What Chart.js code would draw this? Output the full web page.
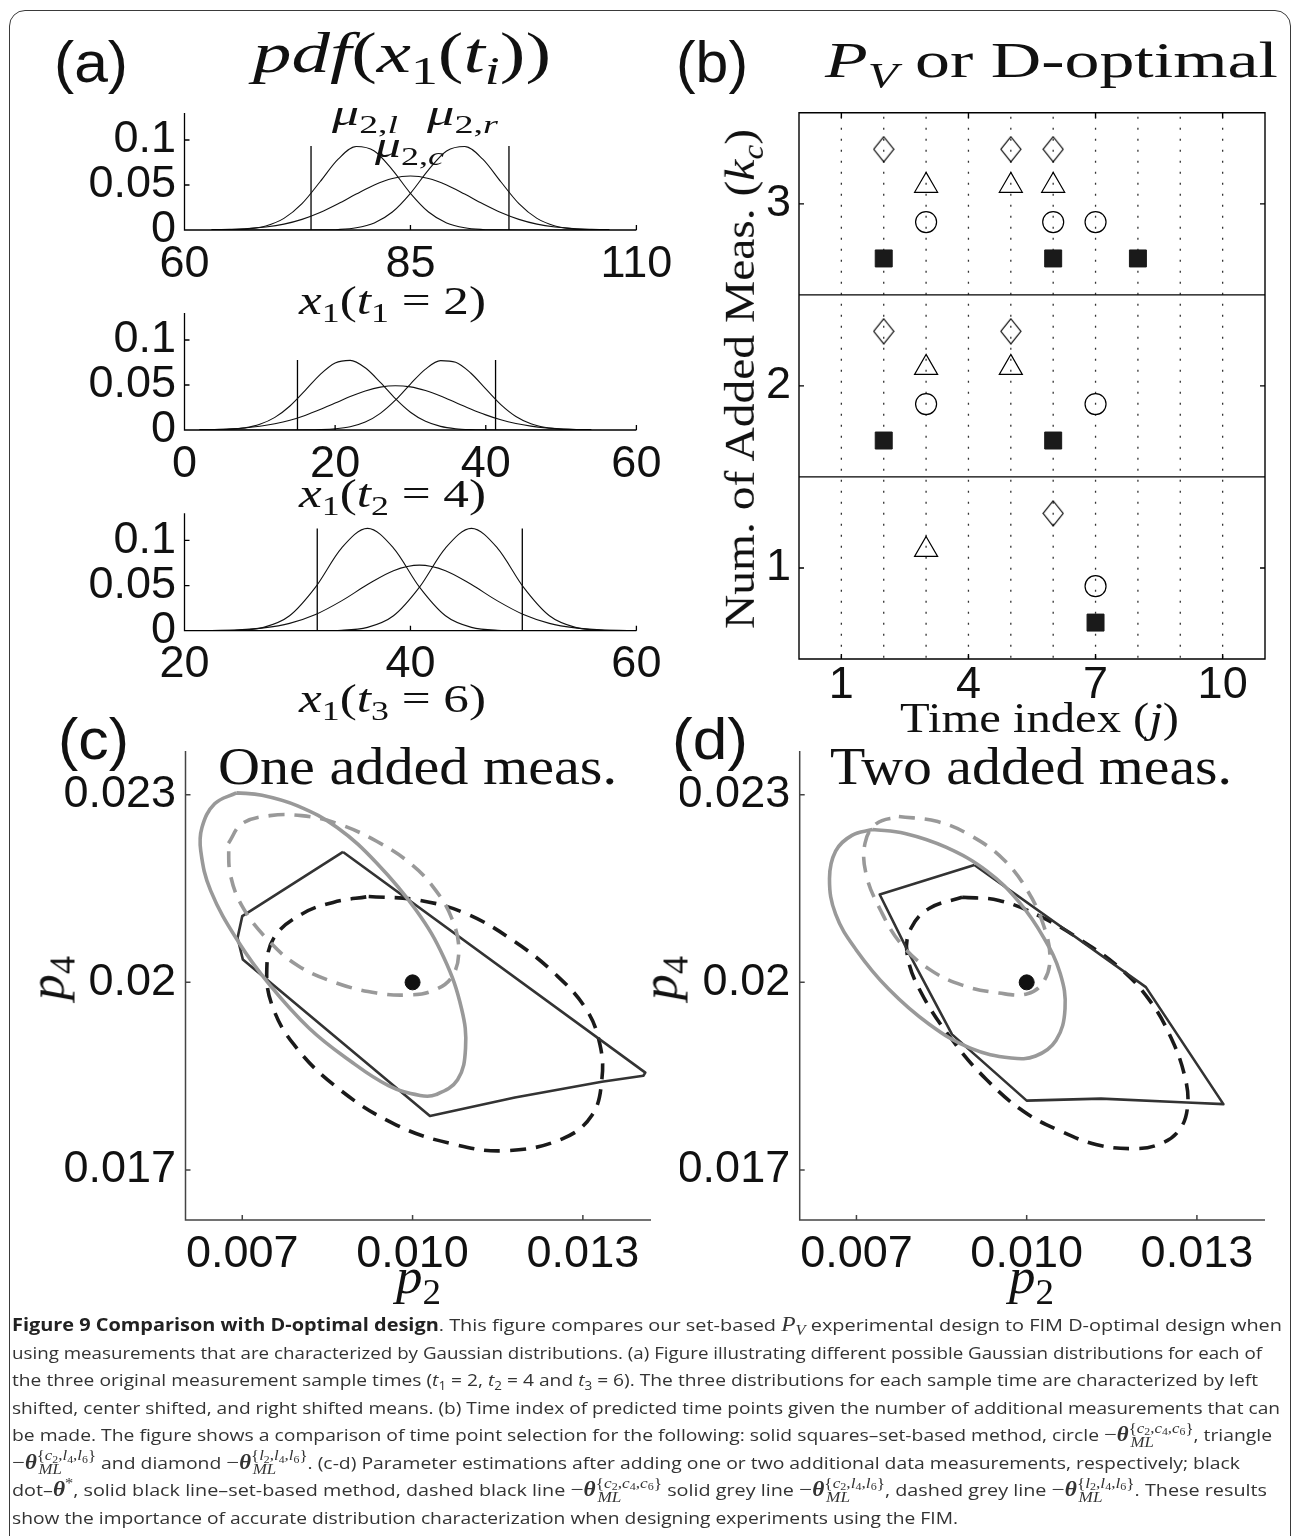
<!DOCTYPE html>
<html>
<head>
<meta charset="utf-8">
<script src="https://cdn.jsdelivr.net/npm/chart.js@4.4.1/dist/chart.umd.min.js"></script>
<style>
  html, body { margin: 0; padding: 0; background: #fff; }
  #page { position: relative; width: 1293px; height: 1536px; overflow: hidden; background: #fff; }
  #frame { position: absolute; left: 9px; top: 10px; width: 1282px; height: 1600px; border: 1.5px solid #3a3a3a; border-radius: 16px; box-sizing: border-box; }
  canvas { position: absolute; }
  .t { position: absolute; white-space: nowrap; line-height: 1; color: #111; transform-origin: 0 0; }
  .sans { font-family: 'Liberation Sans', Arial, sans-serif; }
  .serif { font-family: 'Liberation Serif', 'Times New Roman', serif; }
  .t sub { font-size: .7em; position: relative; top: .3em; vertical-align: baseline; line-height: 0; }
  .bl { display: inline-block; width: 0; height: 0; vertical-align: baseline; }
  .cap { position: absolute; left: 12px; top: 1311px; font-family: 'Open Sans', sans-serif; font-size: 17px; color: #333; }
  .cap .ln { height: 27.5px; line-height: 27.5px; white-space: nowrap; }
  .cap .ln span.tx { display: inline-block; transform-origin: 0 50%; }
  .cap b.hd { font-weight: 700; color: #222; }
  .cap sub { font-size: .7em; position: relative; top: .3em; vertical-align: baseline; line-height: 0; }
  .mth { font-family: 'Liberation Serif', serif; font-size: 1.18em; }
  .ss { position: relative; top: -.55em; font-size: .74em; line-height: 0; }
  .ss sub { font-size: .7em; top: .25em; }
  .ml { position: absolute; left: .1em; top: 1.02em; line-height: 1; }
  .mth sup { font-size: .7em; line-height: 0; }
</style>
</head>
<body>
<div id="page"><div id="frame"></div></div>
<script>
// ---- (a) pdf curves of x1 at the three sample times ----
const a1X = [63, 65, 67, 69, 71, 73, 75, 77, 79, 81, 83, 85, 87, 89, 91, 93, 95, 97, 99, 101, 103, 105, 107];
const a1Left = [0.0001, 0.0003, 0.0013, 0.0045, 0.0129, 0.0293, 0.0536, 0.0787, 0.0928, 0.0878, 0.0668, 0.0408, 0.0200, 0.0079, 0.0025, 0.0006, 0.0001, 0, 0, 0, 0, 0, 0];
const a1Center = [0.0003, 0.0007, 0.0015, 0.0033, 0.0065, 0.0118, 0.0194, 0.0291, 0.0399, 0.0501, 0.0573, 0.0600, 0.0573, 0.0501, 0.0399, 0.0291, 0.0194, 0.0118, 0.0065, 0.0033, 0.0015, 0.0007, 0.0003];
const a1Right = [0, 0, 0, 0, 0, 0, 0.0001, 0.0006, 0.0025, 0.0079, 0.0200, 0.0408, 0.0668, 0.0878, 0.0928, 0.0787, 0.0536, 0.0293, 0.0129, 0.0045, 0.0013, 0.0003, 0.0001];
const a1Bounds = [74, 95.9];
const a1BoundTop = 0.0934;

const a2X = [2, 4, 6, 8, 10, 12, 14, 16, 18, 20, 22, 24, 26, 28, 30, 32, 34, 36, 38, 40, 42, 44, 46, 48, 50, 52, 54];
const a2Left = [0.0001, 0.0002, 0.0008, 0.0024, 0.0063, 0.0140, 0.0267, 0.0438, 0.0616, 0.0745, 0.0774, 0.0691, 0.0529, 0.0348, 0.0197, 0.0096, 0.0040, 0.0014, 0.0004, 0.0001, 0, 0, 0, 0, 0, 0, 0];
const a2Center = [0.0003, 0.0006, 0.0012, 0.0023, 0.0041, 0.0069, 0.0108, 0.0162, 0.0227, 0.0299, 0.0371, 0.0433, 0.0476, 0.0492, 0.0479, 0.0438, 0.0378, 0.0306, 0.0234, 0.0168, 0.0113, 0.0072, 0.0043, 0.0024, 0.0013, 0.0006, 0.0003];
const a2Right = [0, 0, 0, 0, 0, 0, 0, 0.0001, 0.0004, 0.0013, 0.0036, 0.0088, 0.0185, 0.0331, 0.0511, 0.0677, 0.0771, 0.0753, 0.0633, 0.0456, 0.0282, 0.0150, 0.0069, 0.0027, 0.0009, 0.0003, 0.0001];
const a2Bounds = [15, 41.3];
const a2BoundTop = 0.0778;

const a3X = [22.4, 24.7, 27.0, 29.3, 31.6, 33.9, 36.2, 38.5, 40.8, 43.1, 45.4, 47.7, 50.0, 52.3, 54.6, 56.9, 59.2];
const a3Left = [0.0001, 0.0005, 0.0037, 0.0166, 0.0483, 0.0915, 0.1133, 0.0915, 0.0483, 0.0166, 0.0037, 0.0005, 0.0001, 0, 0, 0, 0];
const a3Center = [0.0003, 0.0010, 0.0031, 0.0081, 0.0179, 0.0330, 0.0511, 0.0665, 0.0726, 0.0665, 0.0511, 0.0330, 0.0179, 0.0081, 0.0031, 0.0010, 0.0003];
const a3Right = [0, 0, 0, 0, 0.0001, 0.0005, 0.0037, 0.0166, 0.0483, 0.0915, 0.1133, 0.0915, 0.0483, 0.0166, 0.0037, 0.0005, 0.0001];
const a3Bounds = [31.75, 49.9];
const a3BoundTop = 0.1133;

const pdfYTicks = [0, 0.05, 0.1];
const pdfYText = ['0', '0.05', '0.1'];
const a1Ticks = [60, 85, 110];
const a2Ticks = [0, 20, 40, 60];
const a3Ticks = [20, 40, 60];

// ---- (b) selected time index per number of added measurements ----
const kcRows = [1, 2, 3];
const squareTimes = [[7], [2, 6], [2, 6, 8]];      // set-based
const circleTimes = [[7], [3, 7], [3, 6, 7]];      // {c2,c4,c6}
const triangleTimes = [[3], [3, 5], [3, 5, 6]];    // {c2,l4,l6}
const diamondTimes = [[6], [2, 5], [2, 5, 6]];     // {l2,l4,l6}
const rowOffsets = { square: -0.3, circle: -0.1, triangle: 0.1, diamond: 0.3 };
const timeTicks = [1, 4, 7, 10];
const kcTicks = [1, 2, 3];
const timeGrid = [1, 2, 3, 4, 5, 6, 7, 8, 9, 10];
const rowSeparators = [1.5, 2.5];

// ---- (c) one added measurement, points [p2, p4] ----
const cSetBased = [[0.008775, 0.022086], [0.007000, 0.021059], [0.006917, 0.020712], [0.007010, 0.020366], [0.010306, 0.017863], [0.011803, 0.018160], [0.013334, 0.018412], [0.014065, 0.018506], [0.014100, 0.018557], [0.008775, 0.022086]];
const cCentered = [[0.009227, 0.021374], [0.010132, 0.021311], [0.010967, 0.021090], [0.011803, 0.020649], [0.012499, 0.020145], [0.013055, 0.019578], [0.013299, 0.019011], [0.013334, 0.018443], [0.013160, 0.017876], [0.012638, 0.017498], [0.011663, 0.017309], [0.010759, 0.017404], [0.009715, 0.017719], [0.008671, 0.018317], [0.007905, 0.019011], [0.007522, 0.019641], [0.007432, 0.020208], [0.007557, 0.020712], [0.008044, 0.021090], [0.008601, 0.021279], [0.009227, 0.021374]];
const cMixed = [[0.006896, 0.023031], [0.007348, 0.022993], [0.007975, 0.022823], [0.008671, 0.022477], [0.009367, 0.021910], [0.010063, 0.021153], [0.010550, 0.020397], [0.010863, 0.019578], [0.010933, 0.018948], [0.010793, 0.018443], [0.010411, 0.018204], [0.010132, 0.018191], [0.009575, 0.018349], [0.008879, 0.018759], [0.008183, 0.019263], [0.007487, 0.019956], [0.006931, 0.020649], [0.006443, 0.021468], [0.006269, 0.022099], [0.006290, 0.022477], [0.006513, 0.022855], [0.006896, 0.023031]];
const cLeft = [[0.006757, 0.022225], [0.007000, 0.022540], [0.007487, 0.022666], [0.008044, 0.022666], [0.008671, 0.022540], [0.009367, 0.022256], [0.009993, 0.021878], [0.010411, 0.021468], [0.010689, 0.021027], [0.010814, 0.020523], [0.010689, 0.020082], [0.010341, 0.019861], [0.009923, 0.019798], [0.009367, 0.019830], [0.008671, 0.019987], [0.007975, 0.020271], [0.007418, 0.020712], [0.007000, 0.021216], [0.006791, 0.021720], [0.006757, 0.022225]];

// ---- (d) two added measurements ----
const dSetBased = [[0.009079, 0.021878], [0.007410, 0.021405], [0.007928, 0.020460], [0.008684, 0.019168], [0.010000, 0.018109], [0.011309, 0.018141], [0.012820, 0.018078], [0.013467, 0.018053], [0.012101, 0.019924], [0.009079, 0.021878]];
const dCentered = [[0.008863, 0.021361], [0.009511, 0.021311], [0.010230, 0.021059], [0.010950, 0.020681], [0.011669, 0.020208], [0.012173, 0.019704], [0.012532, 0.019137], [0.012784, 0.018506], [0.012834, 0.018002], [0.012676, 0.017624], [0.012316, 0.017404], [0.011885, 0.017341], [0.011237, 0.017404], [0.010590, 0.017624], [0.009942, 0.017939], [0.009295, 0.018443], [0.008719, 0.019042], [0.008144, 0.019830], [0.007892, 0.020460], [0.007964, 0.020870], [0.008288, 0.021185], [0.008863, 0.021361]];
const dMixed = [[0.007281, 0.022445], [0.007856, 0.022382], [0.008576, 0.022162], [0.009295, 0.021783], [0.009871, 0.021279], [0.010302, 0.020712], [0.010590, 0.020145], [0.010676, 0.019578], [0.010518, 0.019074], [0.010158, 0.018822], [0.009727, 0.018790], [0.009007, 0.018948], [0.008288, 0.019326], [0.007568, 0.019893], [0.006993, 0.020523], [0.006633, 0.021090], [0.006525, 0.021657], [0.006633, 0.022099], [0.006921, 0.022351], [0.007281, 0.022445]];
const dLeft = [[0.007748, 0.022653], [0.008432, 0.022571], [0.009007, 0.022351], [0.009583, 0.021973], [0.010014, 0.021468], [0.010302, 0.020901], [0.010410, 0.020397], [0.010302, 0.020019], [0.010014, 0.019817], [0.009511, 0.019830], [0.008863, 0.019956], [0.008288, 0.020208], [0.007784, 0.020618], [0.007425, 0.021153], [0.007173, 0.021720], [0.007151, 0.022225], [0.007353, 0.022540], [0.007748, 0.022653]];

const thetaStar = [0.010, 0.020];
const p2Ticks = [0.007, 0.010, 0.013];
const p2Text = ['0.007', '0.010', '0.013'];
const p4Ticks = [0.017, 0.020, 0.023];
const p4Text = ['0.017', '0.02', '0.023'];

// MATLAB-like axes: inward ticks, optional full box, dotted grid
const matlabAxes = {
  id: 'matlabAxes',
  beforeDatasetsDraw(chart, args, o) {
    const { ctx, chartArea: a, scales: { x, y } } = chart;
    ctx.save();
    if (o.dotted) {
      ctx.setLineDash([2, 9]);
      ctx.lineWidth = 1.3;
      ctx.strokeStyle = '#333';
      o.dotted.forEach(v => {
        const px = x.getPixelForValue(v);
        ctx.beginPath(); ctx.moveTo(px, a.top + 4); ctx.lineTo(px, a.bottom); ctx.stroke();
      });
      ctx.setLineDash([]);
    }
    if (o.hlines) {
      ctx.lineWidth = 1.2;
      ctx.strokeStyle = '#000';
      o.hlines.forEach(v => {
        const py = y.getPixelForValue(v);
        ctx.beginPath(); ctx.moveTo(a.left, py); ctx.lineTo(a.right, py); ctx.stroke();
      });
    }
    ctx.restore();
  },
  afterDatasetsDraw(chart, args, o) {
    if (!o.xTicks) return;
    const { ctx, chartArea: a, scales: { x, y } } = chart;
    const t = o.tickLen || 5;
    ctx.save();
    ctx.strokeStyle = o.color || '#000';
    ctx.lineWidth = o.lineWidth || 1.3;
    ctx.beginPath();
    ctx.moveTo(a.left, a.top); ctx.lineTo(a.left, a.bottom); ctx.lineTo(a.right, a.bottom);
    if (o.box) { ctx.lineTo(a.right, a.top); ctx.closePath(); }
    o.xTicks.forEach(v => {
      const px = x.getPixelForValue(v);
      ctx.moveTo(px, a.bottom); ctx.lineTo(px, a.bottom - t);
      if (o.box) { ctx.moveTo(px, a.top); ctx.lineTo(px, a.top + t); }
    });
    o.yTicks.forEach(v => {
      const py = y.getPixelForValue(v);
      ctx.moveTo(a.left, py); ctx.lineTo(a.left + t, py);
      if (o.box) { ctx.moveTo(a.right, py); ctx.lineTo(a.right - t, py); }
    });
    ctx.stroke();
    ctx.restore();
  }
};
Chart.register(matlabAxes);

const page = document.getElementById('page');

function makeCanvas(box) {
  const c = document.createElement('canvas');
  c.width = box[2];
  c.height = box[3];
  c.style.left = box[0] + 'px';
  c.style.top = box[1] + 'px';
  page.appendChild(c);
  return c;
}

function axis(pos, min, max, vals, text, pad, size) {
  return {
    type: 'linear', position: pos, min: min, max: max,
    grid: { display: false, drawTicks: false },
    border: { display: false },
    afterBuildTicks: s => { s.ticks = vals.map(v => ({ value: v })); },
    afterFit: s => { if (pos === 'bottom') s.height = size; else s.width = size; },
    ticks: {
      autoSkip: false, maxRotation: 0, minRotation: 0, padding: pad, color: '#111',
      font: { family: "'Liberation Sans', Arial, sans-serif", size: 45, lineHeight: 1 },
      callback: (v, i) => text[i]
    }
  };
}

// box = [left, top, width, height] of canvas, area = [left, top, right, bottom] of plot
function options(box, area, x, y, axesOpts) {
  return {
    responsive: false, animation: false, devicePixelRatio: 1, events: [],
    layout: { padding: { left: 0, top: area[1] - box[1], right: box[0] + box[2] - area[2], bottom: 0 } },
    plugins: { legend: { display: false }, tooltip: { enabled: false }, matlabAxes: axesOpts },
    scales: { x: x, y: y }
  };
}

const curve = (xs, ys) => ({
  data: xs.map((x, i) => ({ x: x, y: ys[i] })),
  borderColor: '#111', borderWidth: 1.1, pointRadius: 0,
  tension: 0.4, cubicInterpolationMode: 'monotone', fill: false
});
const bound = (x, top) => ({
  data: [{ x: x, y: 0 }, { x: x, y: top }],
  borderColor: '#000', borderWidth: 1.3, pointRadius: 0, fill: false
});

function pdfPanel(box, area, xMin, xMax, xTicks, xs, left, center, right, bounds, top, xPad) {
  new Chart(makeCanvas(box), {
    type: 'line',
    data: { datasets: [curve(xs, left), curve(xs, center), curve(xs, right), bound(bounds[0], top), bound(bounds[1], top)] },
    options: options(box, area,
      axis('bottom', xMin, xMax, xTicks, xTicks.map(String), xPad, box[1] + box[3] - area[3]),
      axis('left', 0, 0.13, pdfYTicks, pdfYText, 8.5, area[0] - box[0]),
      { xTicks: xTicks, yTicks: [0.05, 0.1] })
  });
}

pdfPanel([80, 70, 620, 230], [184.5, 113, 636.4, 230], 60, 110, a1Ticks, a1X, a1Left, a1Center, a1Right, a1Bounds, a1BoundTop, 12.5);
pdfPanel([80, 270, 620, 230], [184.5, 313, 636.4, 430], 0, 60, a2Ticks, a2X, a2Left, a2Center, a2Right, a2Bounds, a2BoundTop, 12.5);
pdfPanel([80, 470, 620, 230], [184.5, 513.3, 636.4, 630.7], 20, 60, a3Ticks, a3X, a3Left, a3Center, a3Right, a3Bounds, a3BoundTop, 11.8);

// ---- panel (b) ----
function diamondImage(w, h) {
  const c = document.createElement('canvas');
  c.width = w + 2; c.height = h + 2;
  const g = c.getContext('2d');
  g.strokeStyle = '#000'; g.lineWidth = 1.2;
  g.beginPath();
  g.moveTo(c.width / 2, 1); g.lineTo(c.width - 1, c.height / 2);
  g.lineTo(c.width / 2, c.height - 1); g.lineTo(1, c.height / 2);
  g.closePath(); g.stroke();
  return c;
}
const toPoints = (times, off) => times.flatMap((ts, i) => ts.map(t => ({ x: t, y: kcRows[i] + off })));

const bBox = [690, 70, 603, 650];
const bArea = [799, 112.8, 1265, 659];
new Chart(makeCanvas(bBox), {
  type: 'scatter',
  data: {
    datasets: [
      { data: toPoints(squareTimes, rowOffsets.square), pointStyle: 'rect', pointRadius: 12, backgroundColor: '#1a1a1a', borderColor: '#1a1a1a', borderWidth: 1 },
      { data: toPoints(circleTimes, rowOffsets.circle), pointStyle: 'circle', pointRadius: 10.5, backgroundColor: 'rgba(0,0,0,0)', borderColor: '#000', borderWidth: 1.2 },
      { data: toPoints(triangleTimes, rowOffsets.triangle), pointStyle: 'triangle', pointRadius: 13.3, backgroundColor: 'rgba(0,0,0,0)', borderColor: '#000', borderWidth: 1.2 },
      { data: toPoints(diamondTimes, rowOffsets.diamond), pointStyle: diamondImage(20, 25), pointRadius: 10, borderColor: '#000' }
    ]
  },
  options: options(bBox, bArea,
    axis('bottom', 0, 11, timeTicks, timeTicks.map(String), 4.5, bBox[1] + bBox[3] - bArea[3]),
    axis('left', 0.5, 3.5, kcTicks, kcTicks.map(String), 8, bArea[0] - bBox[0]),
    { xTicks: timeTicks, yTicks: kcTicks, box: true, dotted: timeGrid, hlines: rowSeparators, lineWidth: 1.4 })
});

// ---- panels (c) and (d) ----
const pts = arr => arr.map(p => ({ x: p[0], y: p[1] }));
const outline = (arr, color, width, dash, tension, order) => ({
  data: pts(arr), showLine: true, pointRadius: 0, borderColor: color, borderWidth: width,
  borderDash: dash, borderCapStyle: 'butt', borderJoinStyle: 'round', tension: tension, fill: false, order: order
});

function estimatePanel(box, area, setBased, centered, mixed, left) {
  new Chart(makeCanvas(box), {
    type: 'scatter',
    data: {
      datasets: [
        { data: pts([thetaStar]), pointRadius: 7.5, backgroundColor: '#111', borderColor: '#111', order: 0 },
        outline(mixed, '#999', 3.6, [], 0.4, 1),
        outline(left, '#999', 3.6, [16, 10], 0.4, 2),
        outline(setBased, '#333', 2.6, [], 0, 3),
        outline(centered, '#1a1a1a', 3.6, [16, 10], 0.4, 4)
      ]
    },
    options: options(box, area,
      axis('bottom', 0.006, 0.0142, p2Ticks, p2Text, 12, box[1] + box[3] - area[3]),
      axis('left', 0.0162, 0.0237, p4Ticks, p4Text, 9.5, area[0] - box[0]),
      { xTicks: p2Ticks, yTicks: p4Ticks, color: '#444', lineWidth: 1.5 })
  });
}

estimatePanel([60, 700, 650, 590], [185.5, 751, 651, 1220], cSetBased, cCentered, cMixed, cLeft);
estimatePanel([680, 700, 613, 590], [799.7, 751, 1265, 1220], dSetBased, dCentered, dMixed, dLeft);

// ---- text labels: centre x, baseline y, target width ----
const texts = [
  { html: '(a)', cls: 'sans', size: 57, cx: 91, by: 82, w: 74 },
  { html: '<i>pdf</i>(<i>x</i><sub>1</sub>(<i>t<sub>i</sub></i>))', cls: 'serif', size: 56, cx: 402, by: 72, w: 298 },
  { html: '<i>μ</i><sub>2,<i>l</i></sub>', cls: 'serif', size: 36, cx: 365, by: 125, w: 66 },
  { html: '<i>μ</i><sub>2,<i>r</i></sub>', cls: 'serif', size: 36, cx: 462.5, by: 125, w: 71 },
  { html: '<i>μ</i><sub>2,<i>c</i></sub>', cls: 'serif', size: 36, cx: 409.5, by: 157, w: 69 },
  { html: '<i>x</i><sub>1</sub>(<i>t</i><sub>1</sub> = 2)', cls: 'serif', size: 40, cx: 392, by: 314, w: 187 },
  { html: '<i>x</i><sub>1</sub>(<i>t</i><sub>2</sub> = 4)', cls: 'serif', size: 40, cx: 392, by: 507, w: 187 },
  { html: '<i>x</i><sub>1</sub>(<i>t</i><sub>3</sub> = 6)', cls: 'serif', size: 40, cx: 392, by: 712, w: 187 },
  { html: '(b)', cls: 'sans', size: 57, cx: 712, by: 82, w: 72 },
  { html: '<i>P</i><sub><i>V</i></sub> or D-optimal', cls: 'serif', size: 50, cx: 1051.5, by: 77, w: 453 },
  { html: 'Num. of Added Meas. (<i>k<sub>c</sub></i>)', cls: 'serif', size: 42, cx: 740, cy: 379, w: 500, rot: true },
  { html: 'Time index (<i>j</i>)', cls: 'serif', size: 42, cx: 1039.5, by: 732, w: 279 },
  { html: '(c)', cls: 'sans', size: 57, cx: 93.5, by: 759, w: 71 },
  { html: 'One added meas.', cls: 'serif', size: 52, cx: 417.5, by: 784, w: 399 },
  { html: '(d)', cls: 'sans', size: 57, cx: 710, by: 759, w: 76 },
  { html: 'Two added meas.', cls: 'serif', size: 52, cx: 1031, by: 784, w: 402 },
  { html: '<i>p</i><sub>4</sub>', cls: 'serif', size: 50, cx: 47, cy: 978, w: 44, rot: true },
  { html: '<i>p</i><sub>4</sub>', cls: 'serif', size: 50, cx: 660, cy: 978, w: 44, rot: true },
  { html: '<i>p</i><sub>2</sub>', cls: 'serif', size: 50, cx: 418.5, by: 1293, w: 45 },
  { html: '<i>p</i><sub>2</sub>', cls: 'serif', size: 50, cx: 1031, by: 1293, w: 45 }
];

texts.forEach(s => {
  const el = document.createElement('div');
  el.className = 't ' + s.cls;
  el.style.fontSize = s.size + 'px';
  el.innerHTML = s.html + '<span class="bl"></span>';
  page.appendChild(el);
  const w0 = el.getBoundingClientRect().width;
  const base = el.querySelector('.bl').offsetTop;
  const k = s.w / w0;
  if (s.rot) {
    el.style.left = s.cx + 'px';
    el.style.top = s.cy + 'px';
    el.style.transform = `rotate(-90deg) scaleX(${k}) translate(${-w0 / 2}px, ${-(base - 0.33 * s.size)}px)`;
  } else {
    el.style.left = (s.cx - s.w / 2) + 'px';
    el.style.top = (s.by - base) + 'px';
    el.style.transform = `scaleX(${k})`;
  }
});

// ---- caption ----
const theta = sup => `<span class="mth">−<b><i>θ</i></b><span class="ss">{${sup}}<span class="ml"><i>ML</i></span></span></span>`;
const cc = '<i>c</i><sub>2</sub>,<i>c</i><sub>4</sub>,<i>c</i><sub>6</sub>';
const cl = '<i>c</i><sub>2</sub>,<i>l</i><sub>4</sub>,<i>l</i><sub>6</sub>';
const ll = '<i>l</i><sub>2</sub>,<i>l</i><sub>4</sub>,<i>l</i><sub>6</sub>';
const captionLines = [
  '<b class="hd">Figure 9 Comparison with D-optimal design</b>. This figure compares our set-based <span class="mth"><i>P</i><sub><i>V</i></sub></span> experimental design to FIM D-optimal design when',
  'using measurements that are characterized by Gaussian distributions. (a) Figure illustrating different possible Gaussian distributions for each of',
  'the three original measurement sample times (<i>t</i><sub>1</sub> = 2, <i>t</i><sub>2</sub> = 4 and <i>t</i><sub>3</sub> = 6). The three distributions for each sample time are characterized by left',
  'shifted, center shifted, and right shifted means. (b) Time index of predicted time points given the number of additional measurements that can',
  'be made. The figure shows a comparison of time point selection for the following: solid squares–set-based method, circle ' + theta(cc) + ', triangle',
  theta(cl) + ' and diamond ' + theta(ll) + '. (c-d) Parameter estimations after adding one or two additional data measurements, respectively; black',
  'dot–<span class="mth"><b><i>θ</i></b><sup>*</sup></span>, solid black line–set-based method, dashed black line ' + theta(cc) + ' solid grey line ' + theta(cl) + ', dashed grey line ' + theta(ll) + '. These results',
  'show the importance of accurate distribution characterization when designing experiments using the FIM.'
];
// right end of each caption line in the reference
const captionEnds = [1282, 1262, 1258, 1280, 1272, 1240, 1267, 958];
const cap = document.createElement('div');
cap.className = 'cap';
cap.innerHTML = captionLines.map(l => `<div class="ln"><span class="tx">${l}</span></div>`).join('');
page.appendChild(cap);
cap.querySelectorAll('.tx').forEach((sp, i) => {
  const w = sp.getBoundingClientRect().width;
  sp.style.transform = `scaleX(${(captionEnds[i] - 12) / w})`;
});
</script>
</body>
</html>
